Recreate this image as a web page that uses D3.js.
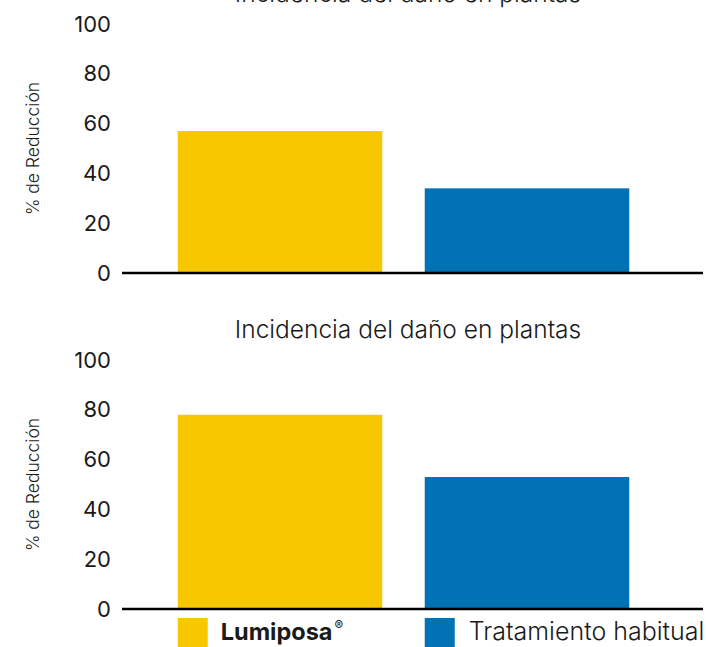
<!DOCTYPE html>
<html>
<head>
<meta charset="utf-8">
<script src="https://cdn.jsdelivr.net/npm/d3@7"></script>
<style>
  html, body { margin: 0; padding: 0; background: #fff; }
  svg { display: block; }
  text { font-family: "Inter", "Lato", sans-serif; fill: #1a1a1a; }
</style>
</head>
<body>
<svg id="chart" width="706" height="647"></svg>
<script>
// ---- data ----
const categories = ["Lumiposa", "Tratamiento habitual"];
const panelTitles = ["Incidencia del daño en plantas", "Incidencia del daño en plantas"];
const topValues = [57, 34];
const bottomValues = [78, 53];
const yTicks = [0, 20, 40, 60, 80, 100];
const yAxisLabel = "% de Reducción";
const colors = ["#F9C700", "#0072B5"];

const svg = d3.select("#chart");

const panels = [
  { title: panelTitles[0], values: topValues, base: 273, top: 24 },
  { title: panelTitles[1], values: bottomValues, base: 609, top: 360 }
];

const x = d3.scaleBand()
  .domain(categories)
  .range([156.5, 650.5])
  .paddingInner(0.172)
  .paddingOuter(0.086);

const axisLeft = 122, axisRight = 703;

panels.forEach(p => {
  const g = svg.append("g");
  const y = d3.scaleLinear().domain([0, 100]).range([p.base, p.top]);

  // title
  g.append("text")
    .attr("x", 408)
    .attr("y", p.top - 22)
    .attr("text-anchor", "middle")
    .style("font-size", "24.5px")
    .style("font-weight", 300)
    .text(p.title);

  // bars
  g.selectAll("rect.bar")
    .data(categories.map((c, i) => ({ c, v: p.values[i], i })))
    .join("rect")
    .attr("class", "bar")
    .attr("x", d => x(d.c))
    .attr("width", x.bandwidth())
    .attr("y", d => y(d.v))
    .attr("height", d => y(0) - y(d.v))
    .attr("fill", d => colors[d.i]);

  // y axis ticks (labels only)
  const ax = d3.axisLeft(y).tickValues(yTicks).tickSize(0).tickPadding(0);
  const axg = g.append("g").attr("transform", `translate(111,0)`).call(ax);
  axg.select(".domain").remove();
  axg.selectAll("text")
    .style("font-size", "22px")
    .style("font-weight", 400)
    .style("font-family", "Inter, Lato, sans-serif")
    .attr("fill", "#111");

  // baseline
  g.append("line")
    .attr("x1", axisLeft).attr("x2", axisRight)
    .attr("y1", y(0)).attr("y2", y(0))
    .attr("stroke", "#000").attr("stroke-width", 2.5);

  // y label
  g.append("text")
    .attr("transform", `translate(39,${(p.base + p.top) / 2}) rotate(-90)`)
    .attr("text-anchor", "middle")
    .style("font-size", "17.5px")
    .style("font-weight", 300)
    .text(yAxisLabel);
});

// legend
const legendY = 618;
const lg = svg.append("g");
categories.forEach((c, i) => {
  const lx = x(c);
  lg.append("rect")
    .attr("x", lx).attr("y", legendY)
    .attr("width", 30).attr("height", 30)
    .attr("fill", colors[i]);
});
const t1 = lg.append("text")
  .attr("x", x(categories[0]) + 43)
  .attr("y", 640)
  .style("font-size", "23.5px")
  .style("font-weight", 700);
t1.append("tspan").text(categories[0]);
t1.append("tspan").attr("dx", 2).attr("dy", -10).style("font-size", "13px").style("font-weight", 500).text("®");

lg.append("text")
  .attr("x", x(categories[1]) + 44)
  .attr("y", 640)
  .style("font-size", "25px")
  .style("font-weight", 300)
  .text(categories[1]);
</script>
</body>
</html>
